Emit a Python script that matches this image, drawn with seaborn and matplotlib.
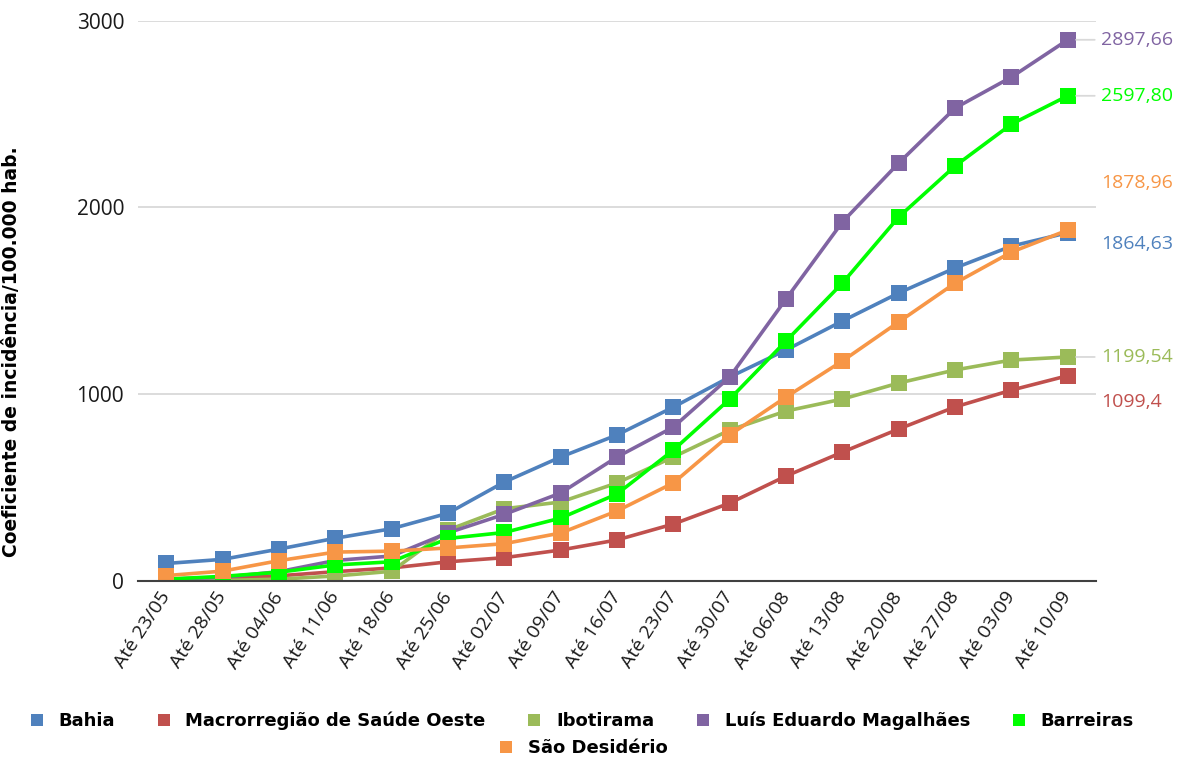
import pandas as pd
import matplotlib
matplotlib.use("Agg")
import matplotlib.pyplot as plt
import seaborn as sns
from matplotlib.lines import Line2D

# Weekly cumulative incidence coefficient (cases per 100,000 inhabitants)
periods = ["Até 23/05", "Até 28/05", "Até 04/06", "Até 11/06", "Até 18/06", "Até 25/06",
           "Até 02/07", "Até 09/07", "Até 16/07", "Até 23/07", "Até 30/07", "Até 06/08",
           "Até 13/08", "Até 20/08", "Até 27/08", "Até 03/09", "Até 10/09"]

bahia = [94, 116, 171, 229, 280, 363, 530, 664, 782, 931, 1092, 1237, 1392, 1542, 1676, 1793, 1864.63]
macrorregiao = [8, 15, 28, 50, 70, 103, 125, 166, 220, 305, 417, 562, 690, 814, 932, 1022, 1099.4]
ibotirama = [4, 3, 10, 27, 52, 273, 387, 423, 525, 664, 808, 910, 974, 1060, 1130, 1183, 1199.54]
lem = [10, 20, 50, 110, 134, 258, 357, 471, 664, 824, 1092, 1510, 1922, 2238, 2532, 2698, 2897.66]
barreiras = [10, 25, 47, 86, 103, 228, 260, 337, 466, 701, 974, 1285, 1595, 1949, 2222, 2446, 2597.80]
sao_desiderio = [29, 53, 109, 155, 160, 177, 200, 257, 375, 525, 782, 985, 1178, 1387, 1595, 1761, 1878.96]

series_names = ["Bahia", "Macrorregião de Saúde Oeste", "Ibotirama",
                "Luís Eduardo Magalhães", "Barreiras", "São Desidério"]
series_values = [bahia, macrorregiao, ibotirama, lem, barreiras, sao_desiderio]
colors = ["#4F81BD", "#C0504D", "#9BBB59", "#8064A2", "#00FF00", "#F79646"]

# End-of-series labels: text, vertical nudge (pixels), draw leader line
end_labels = ["1864,63", "1099,4", "1199,54", "2897,66", "2597,80", "1878,96"]
label_nudge = [-11, -26, 0, 0, 0, 47]
label_leader = [False, False, True, True, True, False]

sns.set_theme(style="white")
plt.rcParams["font.family"] = ["Open Sans", "DejaVu Sans"]

frames = [pd.DataFrame({"Período": periods, "Coeficiente": vals, "Local": name})
          for name, vals in zip(series_names, series_values)]
df = pd.concat(frames, ignore_index=True)

fig = plt.figure(figsize=(11.82, 7.63), dpi=100)
ax = fig.add_axes([0.1168, 0.2385, 0.8104, 0.7344])

sns.lineplot(data=df, x="Período", y="Coeficiente", hue="Local", hue_order=series_names,
             palette=colors, marker="s", markersize=11.5, markeredgewidth=0,
             linewidth=2.6, sort=False, legend=False, ax=ax)

ax.set_xlim(-0.5, len(periods) - 0.5)
ax.set_ylim(0, 3000)
ax.set_yticks([0, 1000, 2000, 3000])
ax.set_yticklabels(["0", "1000", "2000", "3000"])
ax.yaxis.grid(True, color="#D9D9D9", linewidth=1.3)
ax.set_axisbelow(True)
for side in ["top", "right", "left"]:
    ax.spines[side].set_visible(False)
ax.spines["bottom"].set_color("#404040")
ax.spines["bottom"].set_linewidth(1.5)

ax.set_xticks(range(len(periods)))
ax.set_xticklabels(periods, rotation=57, ha="right", va="center",
                   rotation_mode="anchor", fontsize=14, color="#1a1a1a")
ax.tick_params(axis="x", length=0, pad=9)
ax.tick_params(axis="y", length=0, pad=10, labelsize=15, labelcolor="#1a1a1a")

ax.set_xlabel("")
ax.set_ylabel("Coeficiente de incidência/100.000 hab.", fontsize=13.5,
              fontweight="bold", family="DejaVu Sans", color="black")
ax.yaxis.set_label_coords(-0.122, 0.409)

last = len(periods) - 1
for vals, text, col, dy, leader in zip(series_values, end_labels, colors,
                                        label_nudge, label_leader):
    arrow = None
    if leader:
        arrow = dict(arrowstyle="-", color="#D9D9D9", lw=1.3, relpos=(0, 0.5),
                     shrinkA=2, shrinkB=6)
    ax.annotate(text, xy=(last, vals[-1]), xytext=(33, dy), textcoords="offset pixels",
                ha="left", va="center", fontsize=14, color=col,
                arrowprops=arrow, annotation_clip=False)

handles = [Line2D([], [], linestyle="none", marker="s", markersize=9,
                  markerfacecolor=c, markeredgewidth=0) for c in colors]
legend_font = dict(family="DejaVu Sans", weight="bold", size=13)
leg1 = fig.legend(handles[:5], series_names[:5], ncol=5, loc="center",
                  bbox_to_anchor=(0.492, 1 - 721 / 763), frameon=False, prop=legend_font,
                  handlelength=0.8, handletextpad=0.8, columnspacing=2.3)
leg2 = fig.legend(handles[5:], series_names[5:], ncol=1, loc="center",
                  bbox_to_anchor=(0.4935, 1 - 748 / 763), frameon=False, prop=legend_font,
                  handlelength=0.8, handletextpad=0.8)
for leg in (leg1, leg2):
    for t in leg.get_texts():
        t.set_color("black")

fig.savefig("out.png", dpi=100)
